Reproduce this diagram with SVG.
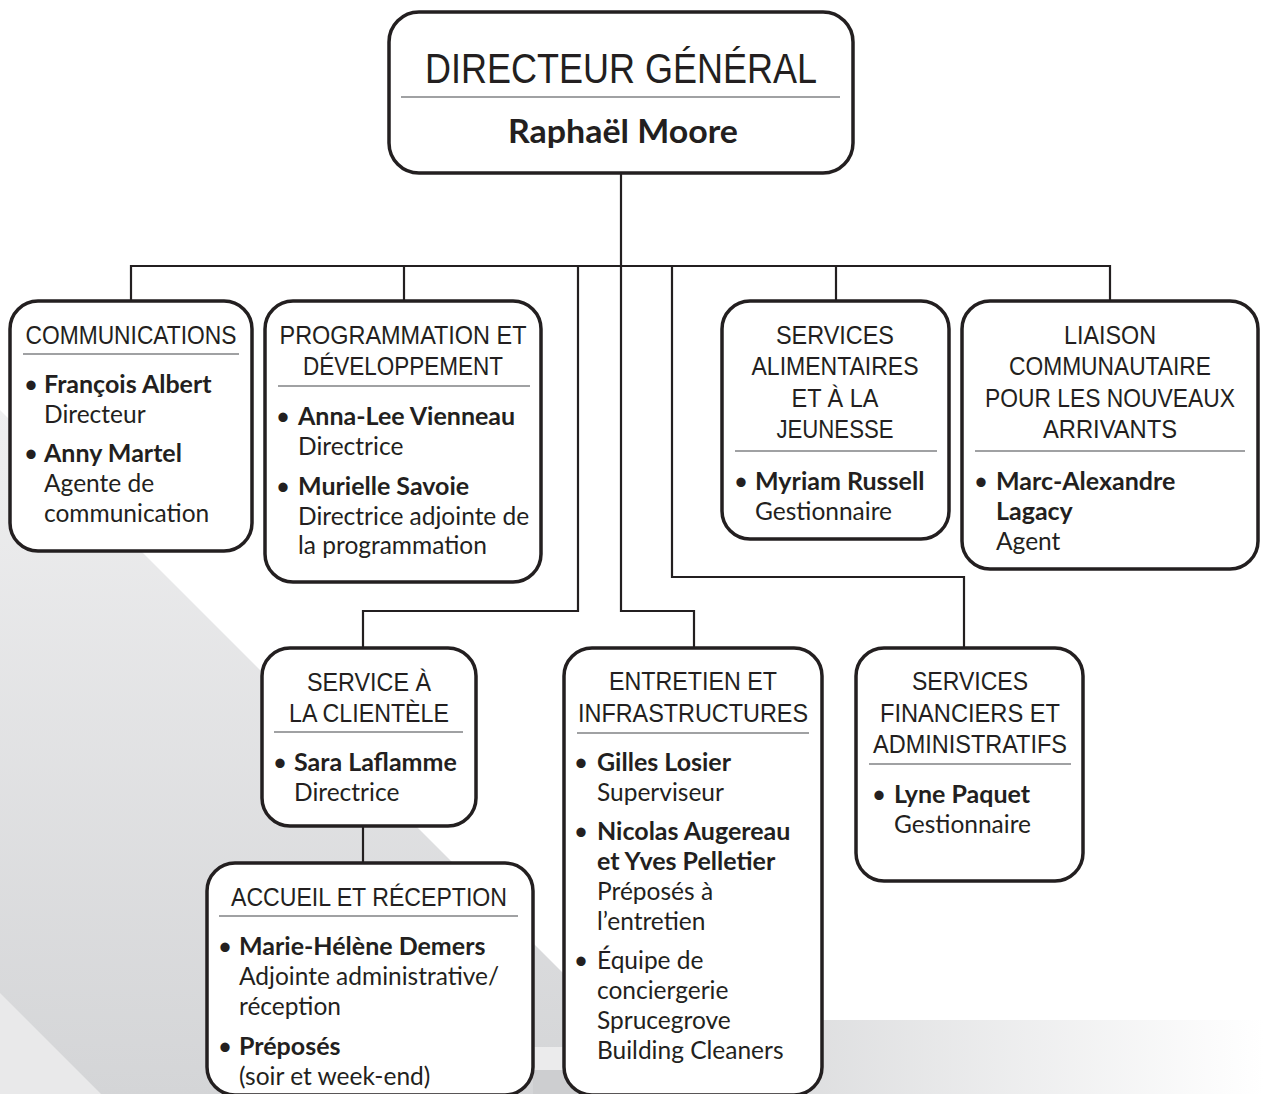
<svg xmlns="http://www.w3.org/2000/svg" width="1264" height="1094" viewBox="0 0 1264 1094">
<style>
.box{fill:#fff;stroke:#231f20;stroke-width:3.5}
.div{stroke:#808285;stroke-width:1.5}
.con{fill:none;stroke:#231f20;stroke-width:2.2}
.hdr{font-family:'Liberation Sans Narrow','Liberation Sans',Arial,sans-serif;font-size:26.5px;fill:#231f20;text-anchor:middle}
.nm{font-family:Lato,'Open Sans',sans-serif;font-weight:700;font-size:25px;fill:#231f20}
.rl{font-family:Lato,'Open Sans',sans-serif;font-weight:400;font-size:24.5px;fill:#231f20}
.bu{font-family:Lato,'Open Sans',sans-serif;font-size:25px;fill:#231f20;text-anchor:middle}
</style>
<defs>
<linearGradient id="bgA" gradientUnits="userSpaceOnUse" x1="0" y1="410" x2="0" y2="1094">
<stop offset="0" stop-color="#efeff0"/><stop offset="1" stop-color="#d4d5d7"/>
</linearGradient>
<linearGradient id="bgB" gradientUnits="userSpaceOnUse" x1="600" y1="0" x2="1264" y2="0">
<stop offset="0" stop-color="#cfd0d2"/><stop offset="1" stop-color="#ffffff"/>
</linearGradient>
</defs>
<rect width="1264" height="1094" fill="#fff"/>
<g id="background">
<polygon points="0,410 684,1094 0,1094" fill="url(#bgA)"/>
<polygon points="0,993 101,1094 0,1094" fill="#e9e9ea"/>
<rect x="600" y="1020" width="664" height="74" fill="url(#bgB)"/>
<rect x="533" y="1047" width="70" height="23" fill="#ebebec"/>
<polygon points="533,1070 603,1070 603,1094 533,1094" fill="#cdced0"/>
</g>
<g id="connectors">
<path class="con" d="M621 173 V611 H694 V648"/>
<path class="con" d="M131 301 V266 H1110 V301"/>
<path class="con" d="M404 266 V301"/>
<path class="con" d="M836 266 V301"/>
<path class="con" d="M578 266 V611 H363 V648"/>
<path class="con" d="M672 266 V577 H964 V648"/>
<path class="con" d="M363 826 V863"/>
</g>
<g id="n-dg">
<rect class="box" x="389" y="12" width="464" height="161" rx="30"/>
<text x="621" y="83" font-family="'Liberation Sans Narrow','Liberation Sans',Arial,sans-serif" font-size="43" fill="#231f20" text-anchor="middle" textLength="392" lengthAdjust="spacingAndGlyphs">DIRECTEUR GÉNÉRAL</text>
<line class="div" x1="401" y1="97" x2="840" y2="97"/>
<text x="623" y="143" font-family="Lato,'Open Sans',sans-serif" font-weight="700" font-size="32" fill="#231f20" text-anchor="middle" textLength="230" lengthAdjust="spacingAndGlyphs">Raphaël Moore</text>
</g>
<g id="n-comm">
<rect class="box" x="10" y="301" width="242" height="250" rx="28"/>
<text class="hdr" x="131" y="344" textLength="211" lengthAdjust="spacingAndGlyphs">COMMUNICATIONS</text>
<line class="div" x1="23" y1="354" x2="239" y2="354"/>
<text class="bu" x="31" y="393">•</text><text class="nm" x="44" y="393">François Albert</text>
<text class="rl" x="44" y="423">Directeur</text>
<text class="bu" x="31" y="462">•</text><text class="nm" x="44" y="462">Anny Martel</text>
<text class="rl" x="44" y="492">Agente de</text>
<text class="rl" x="44" y="522">communication</text>
</g>
<g id="n-prog">
<rect class="box" x="265" y="301" width="276" height="281" rx="28"/>
<text class="hdr" x="403" y="344" textLength="247" lengthAdjust="spacingAndGlyphs">PROGRAMMATION ET</text>
<text class="hdr" x="403" y="375" textLength="200" lengthAdjust="spacingAndGlyphs">DÉVELOPPEMENT</text>
<line class="div" x1="278" y1="386" x2="530" y2="386"/>
<text class="bu" x="283" y="425">•</text><text class="nm" x="298" y="425">Anna-Lee Vienneau</text>
<text class="rl" x="298" y="455">Directrice</text>
<text class="bu" x="283" y="495">•</text><text class="nm" x="298" y="495">Murielle Savoie</text>
<text class="rl" x="298" y="525">Directrice adjointe de</text>
<text class="rl" x="298" y="554">la programmation</text>
</g>
<g id="n-alim">
<rect class="box" x="722" y="301" width="227" height="238" rx="28"/>
<text class="hdr" x="835" y="344" textLength="118" lengthAdjust="spacingAndGlyphs">SERVICES</text>
<text class="hdr" x="835" y="375" textLength="167" lengthAdjust="spacingAndGlyphs">ALIMENTAIRES</text>
<text class="hdr" x="835" y="407" textLength="87" lengthAdjust="spacingAndGlyphs">ET À LA</text>
<text class="hdr" x="835" y="438" textLength="117" lengthAdjust="spacingAndGlyphs">JEUNESSE</text>
<line class="div" x1="735" y1="451" x2="937" y2="451"/>
<text class="bu" x="741" y="490">•</text><text class="nm" x="755" y="490">Myriam Russell</text>
<text class="rl" x="755" y="520">Gestionnaire</text>
</g>
<g id="n-liaison">
<rect class="box" x="962" y="301" width="296" height="268" rx="28"/>
<text class="hdr" x="1110" y="344" textLength="92" lengthAdjust="spacingAndGlyphs">LIAISON</text>
<text class="hdr" x="1110" y="375" textLength="202" lengthAdjust="spacingAndGlyphs">COMMUNAUTAIRE</text>
<text class="hdr" x="1110" y="407" textLength="250" lengthAdjust="spacingAndGlyphs">POUR LES NOUVEAUX</text>
<text class="hdr" x="1110" y="438" textLength="134" lengthAdjust="spacingAndGlyphs">ARRIVANTS</text>
<line class="div" x1="975" y1="451" x2="1245" y2="451"/>
<text class="bu" x="981" y="490">•</text><text class="nm" x="996" y="490">Marc-Alexandre</text>
<text class="nm" x="996" y="520">Lagacy</text>
<text class="rl" x="996" y="550">Agent</text>
</g>
<g id="n-service">
<rect class="box" x="262" y="648" width="214" height="178" rx="28"/>
<text class="hdr" x="369" y="691" textLength="124" lengthAdjust="spacingAndGlyphs">SERVICE À</text>
<text class="hdr" x="369" y="722" textLength="160" lengthAdjust="spacingAndGlyphs">LA CLIENTÈLE</text>
<line class="div" x1="274" y1="732" x2="463" y2="732"/>
<text class="bu" x="280" y="771">•</text><text class="nm" x="294" y="771">Sara Laflamme</text>
<text class="rl" x="294" y="801">Directrice</text>
</g>
<g id="n-accueil">
<rect class="box" x="207" y="863" width="326" height="232" rx="28"/>
<text class="hdr" x="369" y="906" textLength="276" lengthAdjust="spacingAndGlyphs">ACCUEIL ET RÉCEPTION</text>
<line class="div" x1="219" y1="916" x2="518" y2="916"/>
<text class="bu" x="225" y="955">•</text><text class="nm" x="239" y="955">Marie-Hélène Demers</text>
<text class="rl" x="239" y="985">Adjointe administrative/</text>
<text class="rl" x="239" y="1015">réception</text>
<text class="bu" x="225" y="1055">•</text><text class="nm" x="239" y="1055">Préposés</text>
<text class="rl" x="239" y="1085">(soir et week-end)</text>
</g>
<g id="n-entretien">
<rect class="box" x="564" y="648" width="258" height="447" rx="28"/>
<text class="hdr" x="693" y="690" textLength="168" lengthAdjust="spacingAndGlyphs">ENTRETIEN ET</text>
<text class="hdr" x="693" y="722" textLength="230" lengthAdjust="spacingAndGlyphs">INFRASTRUCTURES</text>
<line class="div" x1="577" y1="733" x2="809" y2="733"/>
<text class="bu" x="581" y="771">•</text><text class="nm" x="597" y="771">Gilles Losier</text>
<text class="rl" x="597" y="801">Superviseur</text>
<text class="bu" x="581" y="840">•</text><text class="nm" x="597" y="840">Nicolas Augereau</text>
<text class="nm" x="597" y="870">et Yves Pelletier</text>
<text class="rl" x="597" y="900">Préposés à</text>
<text class="rl" x="597" y="930">l’entretien</text>
<text class="bu" x="581" y="969">•</text><text class="rl" x="597" y="969">Équipe de</text>
<text class="rl" x="597" y="999">conciergerie</text>
<text class="rl" x="597" y="1029">Sprucegrove</text>
<text class="rl" x="597" y="1059">Building Cleaners</text>
</g>
<g id="n-fin">
<rect class="box" x="856" y="648" width="227" height="233" rx="28"/>
<text class="hdr" x="970" y="690" textLength="116" lengthAdjust="spacingAndGlyphs">SERVICES</text>
<text class="hdr" x="970" y="722" textLength="180" lengthAdjust="spacingAndGlyphs">FINANCIERS ET</text>
<text class="hdr" x="970" y="753" textLength="194" lengthAdjust="spacingAndGlyphs">ADMINISTRATIFS</text>
<line class="div" x1="869" y1="764" x2="1071" y2="764"/>
<text class="bu" x="879" y="803">•</text><text class="nm" x="894" y="803">Lyne Paquet</text>
<text class="rl" x="894" y="833">Gestionnaire</text>
</g>
</svg>
